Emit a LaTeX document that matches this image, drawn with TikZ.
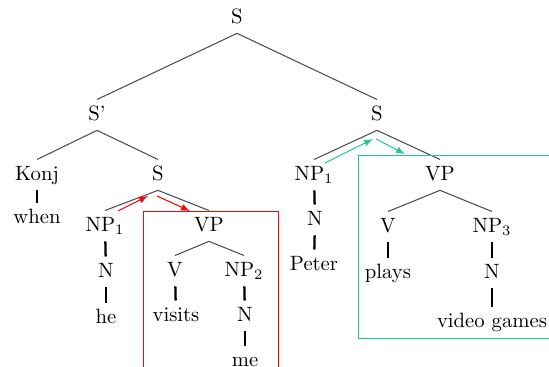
\documentclass[tikz,border=0pt]{standalone}
\usepackage{tikz}
\usetikzlibrary{arrows}
\definecolor{movegreen}{RGB}{32,201,151}

\begin{document}
\begin{tikzpicture}[x=0.483pt,y=-0.483pt,
                      lbl/.style={anchor=base,inner sep=2.8pt,text height=6.9pt,text depth=2pt},
                      branch/.style={draw=black!70,line width=0.5pt},
                      unary/.style={draw=black,line width=1.1pt},
                      move/.style={->,>=latex,line width=0.5pt}]
                      \useasboundingbox (0,0) rectangle (549,367);
                      \clip (0,0) rectangle (549,367);
                      \node[lbl] (s0) at (237,23) {S};
                      \node[lbl] (sa) at (97,120) {S'};
                      \node[lbl] (sb) at (377,120) {S};
                      \node[lbl] (konj) at (37,180) {Konj};
                      \node[lbl] (s1) at (158,180) {S};
                      \node[lbl] (when) at (37,223) {when};
                      \node[lbl] (npa) at (105,231) {NP$_1$};
                      \node[lbl] (vpa) at (209,231) {VP};
                      \node[lbl] (na) at (106,277) {N};
                      \node[lbl] (he) at (106,323) {he};
                      \node[lbl] (va) at (175,276) {V};
                      \node[lbl] (npb) at (244,276) {NP$_2$};
                      \node[lbl] (visits) at (176,321) {visits};
                      \node[lbl] (nb) at (245,321) {N};
                      \node[lbl] (me) at (245,366) {me};
                      \node[lbl] (npc) at (314,180) {NP$_1$};
                      \node[lbl] (vpb) at (440,180) {VP};
                      \node[lbl] (nc) at (315,225) {N};
                      \node[lbl] (peter) at (314,270) {Peter};
                      \node[lbl] (vb) at (388,232) {V};
                      \node[lbl] (npd) at (492,232) {NP$_3$};
                      \node[lbl] (plays) at (388,278) {plays};
                      \node[lbl] (nd) at (492,278) {N};
                      \node[lbl] (games) at (492,327) {video games};
                      \draw[branch] (sa.north) -- (s0.south) -- (sb.north);
                      \draw[branch] (konj.north) -- (sa.south) -- (s1.north);
                      \draw[branch] (npa.north) -- (s1.south) -- (vpa.north);
                      \draw[branch] (va.north) -- (vpa.south) -- (npb.north);
                      \draw[branch] (npc.north) -- (sb.south) -- (vpb.north);
                      \draw[branch] (vb.north) -- (vpb.south) -- (npd.north);
                      \draw[unary] (konj) -- (when);
                      \draw[unary] (npa) -- (na);
                      \draw[unary] (na) -- (he);
                      \draw[unary] (va) -- (visits);
                      \draw[unary] (npb) -- (nb);
                      \draw[unary] (nb) -- (me);
                      \draw[unary] (npc) -- (nc);
                      \draw[unary] (nc) -- (peter);
                      \draw[unary] (vb) -- (plays);
                      \draw[unary] (npd) -- (nd);
                      \draw[unary] (nd) -- (games);
                      \coordinate (ra) at (118,211);
                      \coordinate (rb) at (148,196);
                      \coordinate (rc) at (157,196);
                      \coordinate (rd) at (190,211);
                      \draw[move,red] (ra) -- (rb);
                      \draw[move,red] (rc) -- (rd);
                      \draw[red,line width=0.4pt] (143,211) rectangle (278,380);
                      \coordinate (ga) at (325,163);
                      \coordinate (gb) at (373,139);
                      \coordinate (gc) at (376,139);
                      \coordinate (gd) at (405,154);
                      \draw[move,movegreen] (ga) -- (gb);
                      \draw[move,movegreen] (gc) -- (gd);
                      \draw[movegreen,line width=0.4pt] (358,155) rectangle (560,338);
                  \end{tikzpicture}
\end{document}
